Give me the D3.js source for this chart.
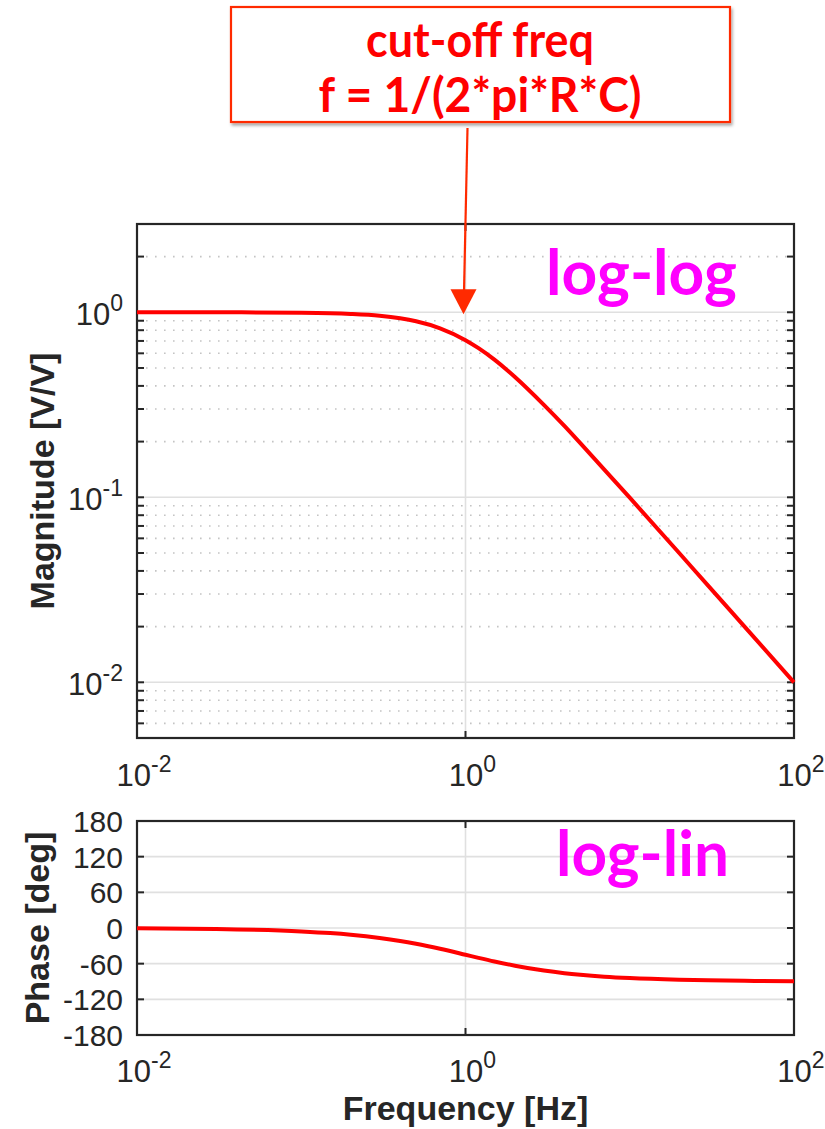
<!DOCTYPE html>
<html>
<head>
<meta charset="utf-8">
<script src="https://cdn.jsdelivr.net/npm/d3@7"></script>
<style>
  body { margin: 0; background: #fff; }
  svg { display: block; }
  text { font-family: "Liberation Sans", Arial, Helvetica, sans-serif; fill: #262626; }
</style>
</head>
<body>
<div id="chart"></div>
<script>
"use strict";

// values (RC low-pass, cut-off at 1 Hz)
var freqHz    = [0.01, 0.03, 0.1, 0.15, 0.2, 0.3, 0.4, 0.5, 0.7, 1, 1.2, 1.5, 2, 3, 4, 5, 7, 10, 20, 30, 50, 100];
var magnitude = [1, 1, 0.995, 0.989, 0.98, 0.958, 0.928, 0.894, 0.819, 0.707, 0.64, 0.555, 0.447, 0.316, 0.243, 0.196, 0.141, 0.0995, 0.05, 0.0333, 0.02, 0.01];
var phaseDeg  = [-0.6, -1.7, -5.7, -8.5, -11.3, -16.7, -21.8, -26.6, -35, -45, -50.2, -56.3, -63.4, -71.6, -76, -78.7, -81.9, -84.3, -87.1, -88.1, -88.9, -89.4];

var freqTicks  = [0.01, 1, 100];
var magTicks   = [0.01, 0.1, 1];
var phaseTicks = [-180, -120, -60, 0, 60, 120, 180];
var cutoffHz   = 1;

var W = 825, H = 1129;
var svg = d3.select("#chart").append("svg").attr("width", W).attr("height", H);

var defs = svg.append("defs");
var flt = defs.append("filter").attr("id", "shadow").attr("x", "-10%").attr("y", "-10%").attr("width", "130%").attr("height", "140%");
flt.append("feDropShadow").attr("dx", 1.5).attr("dy", 2.5).attr("stdDeviation", 1.5).attr("flood-color", "#000").attr("flood-opacity", 0.35);

// == scales ==
var x = d3.scaleLog().domain([0.01, 100]).range([137, 794]);
var yMag = d3.scaleLog().domain([0.005, 3]).range([738, 224]);
var yPh = d3.scaleLinear().domain([-180, 180]).range([1035, 821]);

function pow10Label(sel, v) {
	var e = Math.round(Math.log10(v));
	sel.append("tspan").text("10");
	sel.append("tspan").attr("dy", -14).style("font-size", "23px").text(e);
}

// ---------- magnitude panel ----------
var magPanel = svg.append("g");

// minor grid (2..9 per decade)
var minors = [];
for (var d = -3; d <= 0; d++) {
	for (var k = 2; k <= 9; k++) {
		var v = k * Math.pow(10, d);
		if (v > 0.005 && v < 3) minors.push(v);
	}
}
magPanel.selectAll(".minor").data(minors).enter().append("line")
	.attr("x1", x.range()[0]).attr("x2", x.range()[1])
	.attr("y1", function (d) { return yMag(d); }).attr("y2", function (d) { return yMag(d); })
	.attr("stroke", "#c4c4c4").attr("stroke-width", 1.6).attr("stroke-dasharray", "1.6 7.4");

magPanel.selectAll(".major").data(magTicks).enter().append("line")
	.attr("x1", x.range()[0]).attr("x2", x.range()[1])
	.attr("y1", function (d) { return yMag(d); }).attr("y2", function (d) { return yMag(d); })
	.attr("stroke", "#e0e0e0").attr("stroke-width", 1.6);

magPanel.selectAll(".vgrid").data(freqTicks).enter().append("line")
	.attr("x1", function (d) { return x(d); }).attr("x2", function (d) { return x(d); })
	.attr("y1", yMag.range()[1]).attr("y2", yMag.range()[0])
	.attr("stroke", "#e0e0e0").attr("stroke-width", 1.6);

// y ticks, both sides, inward
var allMag = magTicks.concat(minors);
magPanel.selectAll(".ytl").data(allMag).enter().append("line")
	.attr("x1", x.range()[0]).attr("x2", x.range()[0] + 7)
	.attr("y1", function (d) { return yMag(d); }).attr("y2", function (d) { return yMag(d); })
	.attr("stroke", "#262626").attr("stroke-width", 2);
magPanel.selectAll(".ytr").data(allMag).enter().append("line")
	.attr("x1", x.range()[1]).attr("x2", x.range()[1] - 7)
	.attr("y1", function (d) { return yMag(d); }).attr("y2", function (d) { return yMag(d); })
	.attr("stroke", "#262626").attr("stroke-width", 2);
magPanel.selectAll(".xtb").data(freqTicks).enter().append("line")
	.attr("x1", function (d) { return x(d); }).attr("x2", function (d) { return x(d); })
	.attr("y1", yMag.range()[0]).attr("y2", yMag.range()[0] - 7)
	.attr("stroke", "#262626").attr("stroke-width", 2);
magPanel.selectAll(".xtt").data(freqTicks).enter().append("line")
	.attr("x1", function (d) { return x(d); }).attr("x2", function (d) { return x(d); })
	.attr("y1", yMag.range()[1]).attr("y2", yMag.range()[1] + 7)
	.attr("stroke", "#262626").attr("stroke-width", 2);

magPanel.append("rect")
	.attr("x", x.range()[0]).attr("y", yMag.range()[1])
	.attr("width", x.range()[1] - x.range()[0]).attr("height", yMag.range()[0] - yMag.range()[1])
	.attr("fill", "none").attr("stroke", "#262626").attr("stroke-width", 2.2);

var line = d3.line().curve(d3.curveMonotoneX);
magPanel.append("path")
	.attr("d", line(freqHz.map(function (fr, i) { return [x(fr), yMag(magnitude[i])]; })))
	.attr("fill", "none").attr("stroke", "#ff0000").attr("stroke-width", 4);

magPanel.selectAll(".ylab").data(magTicks).enter().append("text")
	.attr("x", 123).attr("y", function (d) { return yMag(d) + 13; })
	.attr("text-anchor", "end").style("font-size", "31px")
	.each(function (d) { pow10Label(d3.select(this), d); });

magPanel.selectAll(".xlab").data(freqTicks).enter().append("text")
	.attr("x", function (d) { return x(d) + 7; }).attr("y", 786)
	.attr("text-anchor", "middle").style("font-size", "31px")
	.each(function (d) { pow10Label(d3.select(this), d); });

magPanel.append("text")
	.attr("transform", "translate(54," + ((yMag.range()[0] + yMag.range()[1]) / 2) + ") rotate(-90)")
	.attr("text-anchor", "middle").style("font-size", "34px").style("font-weight", "bold")
	.text("Magnitude [V/V]");

// ---------- phase panel ----------
var phPanel = svg.append("g");

phPanel.selectAll(".hgrid").data(phaseTicks.slice(1, -1)).enter().append("line")
	.attr("x1", x.range()[0]).attr("x2", x.range()[1])
	.attr("y1", function (d) { return yPh(d); }).attr("y2", function (d) { return yPh(d); })
	.attr("stroke", "#e0e0e0").attr("stroke-width", 1.6);
phPanel.selectAll(".vgrid").data(freqTicks).enter().append("line")
	.attr("x1", function (d) { return x(d); }).attr("x2", function (d) { return x(d); })
	.attr("y1", yPh.range()[1]).attr("y2", yPh.range()[0])
	.attr("stroke", "#e0e0e0").attr("stroke-width", 1.6);

phPanel.selectAll(".ytl").data(phaseTicks).enter().append("line")
	.attr("x1", x.range()[0]).attr("x2", x.range()[0] + 7)
	.attr("y1", function (d) { return yPh(d); }).attr("y2", function (d) { return yPh(d); })
	.attr("stroke", "#262626").attr("stroke-width", 2);
phPanel.selectAll(".ytr").data(phaseTicks).enter().append("line")
	.attr("x1", x.range()[1]).attr("x2", x.range()[1] - 7)
	.attr("y1", function (d) { return yPh(d); }).attr("y2", function (d) { return yPh(d); })
	.attr("stroke", "#262626").attr("stroke-width", 2);
phPanel.selectAll(".xtb").data(freqTicks).enter().append("line")
	.attr("x1", function (d) { return x(d); }).attr("x2", function (d) { return x(d); })
	.attr("y1", yPh.range()[0]).attr("y2", yPh.range()[0] - 7)
	.attr("stroke", "#262626").attr("stroke-width", 2);
phPanel.selectAll(".xtt").data(freqTicks).enter().append("line")
	.attr("x1", function (d) { return x(d); }).attr("x2", function (d) { return x(d); })
	.attr("y1", yPh.range()[1]).attr("y2", yPh.range()[1] + 7)
	.attr("stroke", "#262626").attr("stroke-width", 2);

phPanel.append("rect")
	.attr("x", x.range()[0]).attr("y", yPh.range()[1])
	.attr("width", x.range()[1] - x.range()[0]).attr("height", yPh.range()[0] - yPh.range()[1])
	.attr("fill", "none").attr("stroke", "#262626").attr("stroke-width", 2.2);

phPanel.append("path")
	.attr("d", line(freqHz.map(function (fr, i) { return [x(fr), yPh(phaseDeg[i])]; })))
	.attr("fill", "none").attr("stroke", "#ff0000").attr("stroke-width", 4);

phPanel.selectAll(".ylab").data(phaseTicks).enter().append("text")
	.attr("x", 123).attr("y", function (d) { return yPh(d) + 11; })
	.attr("text-anchor", "end").style("font-size", "30px")
	.text(function (d) { return d; });

phPanel.selectAll(".xlab").data(freqTicks).enter().append("text")
	.attr("x", function (d) { return x(d) + 7; }).attr("y", 1082)
	.attr("text-anchor", "middle").style("font-size", "31px")
	.each(function (d) { pow10Label(d3.select(this), d); });

phPanel.append("text")
	.attr("transform", "translate(49," + ((yPh.range()[0] + yPh.range()[1]) / 2) + ") rotate(-90)")
	.attr("text-anchor", "middle").style("font-size", "34px").style("font-weight", "bold")
	.text("Phase [deg]");

svg.append("text")
	.attr("x", x(cutoffHz)).attr("y", 1120)
	.attr("text-anchor", "middle").style("font-size", "34px").style("font-weight", "bold")
	.text("Frequency [Hz]");

// ---------- annotations ----------
var note = svg.append("g");
var tipX = x(cutoffHz) - 2, tipY = yMag(1) + 2;

note.append("line")
	.attr("x1", tipX + 4).attr("y1", 128).attr("x2", tipX + 0.5).attr("y2", tipY - 22)
	.attr("stroke", "#ff2a00").attr("stroke-width", 2.2);
note.append("path")
	.attr("d", "M" + (tipX - 13) + "," + (tipY - 25) + "L" + (tipX + 13) + "," + (tipY - 25) + "L" + tipX + "," + tipY + "Z")
	.attr("fill", "#ff2a00");

note.append("rect")
	.attr("x", 231).attr("y", 7).attr("width", 499).attr("height", 115)
	.attr("fill", "#fff").attr("stroke", "#ff2a00").attr("stroke-width", 2.2)
	.attr("filter", "url(#shadow)");

note.append("text")
	.attr("x", 480).attr("y", 57).attr("text-anchor", "middle")
	.attr("textLength", 228).attr("lengthAdjust", "spacingAndGlyphs")
	.style("font-family", "Lato, 'Open Sans', sans-serif").style("font-weight", "bold")
	.style("font-size", "47px").style("fill", "#ff0000")
	.text("cut-off freq");
note.append("text")
	.attr("x", 480).attr("y", 112).attr("text-anchor", "middle")
	.attr("textLength", 323).attr("lengthAdjust", "spacingAndGlyphs")
	.style("font-family", "Lato, 'Open Sans', sans-serif").style("font-weight", "bold")
	.style("font-size", "47px").style("fill", "#ff0000")
	.text("f = 1/(2*pi*R*C)");

note.append("text")
	.attr("x", 546).attr("y", 295)
	.attr("textLength", 191).attr("lengthAdjust", "spacingAndGlyphs")
	.style("font-family", "Lato, 'Open Sans', sans-serif").style("font-weight", "bold")
	.style("font-size", "63px").style("fill", "#ff00ff")
	.text("log-log");
note.append("text")
	.attr("x", 556).attr("y", 876)
	.attr("textLength", 173).attr("lengthAdjust", "spacingAndGlyphs")
	.style("font-family", "Lato, 'Open Sans', sans-serif").style("font-weight", "bold")
	.style("font-size", "63px").style("fill", "#ff00ff")
	.text("log-lin");
</script>
</body>
</html>
